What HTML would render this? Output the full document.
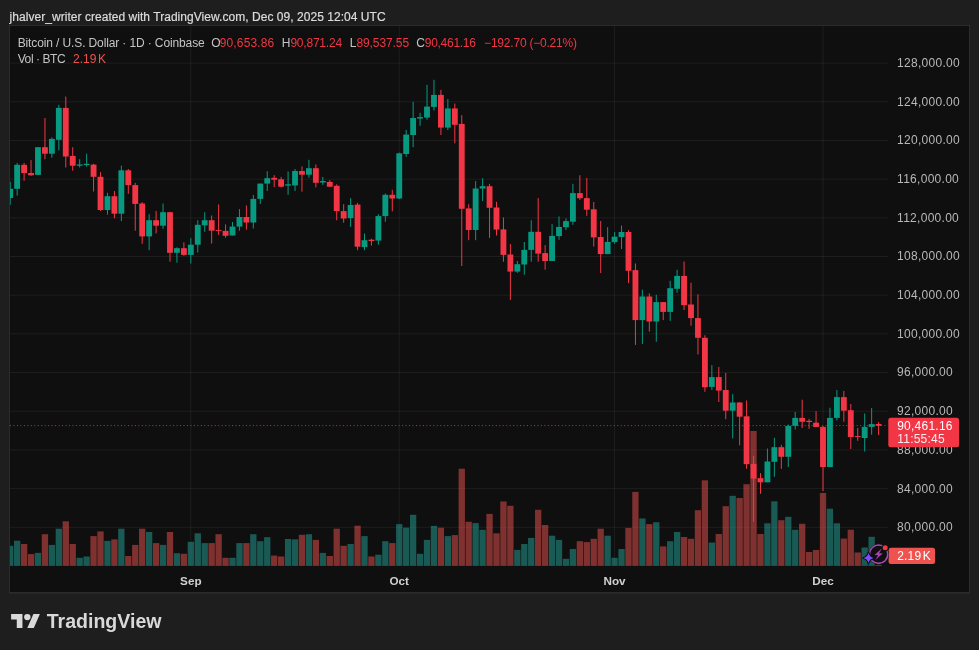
<!DOCTYPE html>
<html><head><meta charset="utf-8"><title>BTCUSD chart</title>
<style>html,body{margin:0;padding:0;background:#1e1e1e;}body{width:979px;height:650px;overflow:hidden;font-family:"Liberation Sans",sans-serif;}svg{display:block;will-change:transform;}text{font-family:"Liberation Sans",sans-serif;}</style>
</head><body>
<svg width="979" height="650" viewBox="0 0 979 650">
<rect x="0" y="0" width="979" height="650" fill="#1e1e1e"/>
<rect x="9" y="25" width="961" height="568.6" fill="#2b2b2b"/>
<rect x="10" y="26" width="959" height="566" fill="#0f0f0f"/>
<defs><clipPath id="cp"><rect x="10" y="26" width="878" height="566"/></clipPath></defs>
<g><rect x="10" y="62.6" width="878" height="1" fill="rgba(255,255,255,0.062)"/><rect x="10" y="101.28" width="878" height="1" fill="rgba(255,255,255,0.062)"/><rect x="10" y="139.96" width="878" height="1" fill="rgba(255,255,255,0.062)"/><rect x="10" y="178.64" width="878" height="1" fill="rgba(255,255,255,0.062)"/><rect x="10" y="217.32" width="878" height="1" fill="rgba(255,255,255,0.062)"/><rect x="10" y="256" width="878" height="1" fill="rgba(255,255,255,0.062)"/><rect x="10" y="294.68" width="878" height="1" fill="rgba(255,255,255,0.062)"/><rect x="10" y="333.36" width="878" height="1" fill="rgba(255,255,255,0.062)"/><rect x="10" y="372.04" width="878" height="1" fill="rgba(255,255,255,0.062)"/><rect x="10" y="410.72" width="878" height="1" fill="rgba(255,255,255,0.062)"/><rect x="10" y="449.4" width="878" height="1" fill="rgba(255,255,255,0.062)"/><rect x="10" y="488.08" width="878" height="1" fill="rgba(255,255,255,0.062)"/><rect x="10" y="526.76" width="878" height="1" fill="rgba(255,255,255,0.062)"/><rect x="190.32" y="26" width="1" height="540" fill="rgba(255,255,255,0.062)"/><rect x="398.73" y="26" width="1" height="540" fill="rgba(255,255,255,0.062)"/><rect x="614.09" y="26" width="1" height="540" fill="rgba(255,255,255,0.062)"/><rect x="822.5" y="26" width="1" height="540" fill="rgba(255,255,255,0.062)"/></g>
<g clip-path="url(#cp)"><rect x="7.05" y="545.8" width="6.3" height="20.1" fill="rgba(38,166,154,0.5)"/><rect x="14" y="540.7" width="6.3" height="25.2" fill="rgba(38,166,154,0.5)"/><rect x="20.94" y="544" width="6.3" height="21.9" fill="rgba(239,83,80,0.5)"/><rect x="27.89" y="554.1" width="6.3" height="11.8" fill="rgba(239,83,80,0.5)"/><rect x="34.84" y="552.9" width="6.3" height="13" fill="rgba(38,166,154,0.5)"/><rect x="41.79" y="534.2" width="6.3" height="31.7" fill="rgba(239,83,80,0.5)"/><rect x="48.73" y="544.9" width="6.3" height="21" fill="rgba(38,166,154,0.5)"/><rect x="55.68" y="528.7" width="6.3" height="37.2" fill="rgba(38,166,154,0.5)"/><rect x="62.63" y="521.3" width="6.3" height="44.6" fill="rgba(239,83,80,0.5)"/><rect x="69.57" y="544" width="6.3" height="21.9" fill="rgba(239,83,80,0.5)"/><rect x="76.52" y="557.8" width="6.3" height="8.1" fill="rgba(38,166,154,0.5)"/><rect x="83.47" y="556.5" width="6.3" height="9.4" fill="rgba(38,166,154,0.5)"/><rect x="90.41" y="536.1" width="6.3" height="29.8" fill="rgba(239,83,80,0.5)"/><rect x="97.36" y="531.4" width="6.3" height="34.5" fill="rgba(239,83,80,0.5)"/><rect x="104.31" y="540.9" width="6.3" height="25" fill="rgba(38,166,154,0.5)"/><rect x="111.25" y="539.4" width="6.3" height="26.5" fill="rgba(239,83,80,0.5)"/><rect x="118.2" y="528.7" width="6.3" height="37.2" fill="rgba(38,166,154,0.5)"/><rect x="125.15" y="556" width="6.3" height="9.9" fill="rgba(239,83,80,0.5)"/><rect x="132.1" y="544.9" width="6.3" height="21" fill="rgba(239,83,80,0.5)"/><rect x="139.04" y="528.7" width="6.3" height="37.2" fill="rgba(239,83,80,0.5)"/><rect x="145.99" y="532" width="6.3" height="33.9" fill="rgba(38,166,154,0.5)"/><rect x="152.94" y="543.1" width="6.3" height="22.8" fill="rgba(239,83,80,0.5)"/><rect x="159.88" y="544.9" width="6.3" height="21" fill="rgba(38,166,154,0.5)"/><rect x="166.83" y="532" width="6.3" height="33.9" fill="rgba(239,83,80,0.5)"/><rect x="173.78" y="553.2" width="6.3" height="12.7" fill="rgba(38,166,154,0.5)"/><rect x="180.72" y="553.8" width="6.3" height="12.1" fill="rgba(239,83,80,0.5)"/><rect x="187.67" y="541.8" width="6.3" height="24.1" fill="rgba(38,166,154,0.5)"/><rect x="194.62" y="533.3" width="6.3" height="32.6" fill="rgba(38,166,154,0.5)"/><rect x="201.57" y="543.1" width="6.3" height="22.8" fill="rgba(38,166,154,0.5)"/><rect x="208.51" y="543.1" width="6.3" height="22.8" fill="rgba(239,83,80,0.5)"/><rect x="215.46" y="534.2" width="6.3" height="31.7" fill="rgba(239,83,80,0.5)"/><rect x="222.41" y="557.8" width="6.3" height="8.1" fill="rgba(239,83,80,0.5)"/><rect x="229.35" y="557.8" width="6.3" height="8.1" fill="rgba(38,166,154,0.5)"/><rect x="236.3" y="543.1" width="6.3" height="22.8" fill="rgba(38,166,154,0.5)"/><rect x="243.25" y="543.1" width="6.3" height="22.8" fill="rgba(239,83,80,0.5)"/><rect x="250.19" y="534.2" width="6.3" height="31.7" fill="rgba(38,166,154,0.5)"/><rect x="257.14" y="541.2" width="6.3" height="24.7" fill="rgba(38,166,154,0.5)"/><rect x="264.09" y="537.2" width="6.3" height="28.7" fill="rgba(38,166,154,0.5)"/><rect x="271.04" y="555.6" width="6.3" height="10.3" fill="rgba(239,83,80,0.5)"/><rect x="277.98" y="556.5" width="6.3" height="9.4" fill="rgba(239,83,80,0.5)"/><rect x="284.93" y="539" width="6.3" height="26.9" fill="rgba(38,166,154,0.5)"/><rect x="291.88" y="539.4" width="6.3" height="26.5" fill="rgba(38,166,154,0.5)"/><rect x="298.82" y="534.8" width="6.3" height="31.1" fill="rgba(239,83,80,0.5)"/><rect x="305.77" y="534.2" width="6.3" height="31.7" fill="rgba(38,166,154,0.5)"/><rect x="312.72" y="539.9" width="6.3" height="26" fill="rgba(239,83,80,0.5)"/><rect x="319.67" y="552.9" width="6.3" height="13" fill="rgba(38,166,154,0.5)"/><rect x="326.61" y="556" width="6.3" height="9.9" fill="rgba(239,83,80,0.5)"/><rect x="333.56" y="528.7" width="6.3" height="37.2" fill="rgba(239,83,80,0.5)"/><rect x="340.51" y="545.8" width="6.3" height="20.1" fill="rgba(239,83,80,0.5)"/><rect x="347.45" y="544" width="6.3" height="21.9" fill="rgba(38,166,154,0.5)"/><rect x="354.4" y="525.7" width="6.3" height="40.2" fill="rgba(239,83,80,0.5)"/><rect x="361.35" y="536.1" width="6.3" height="29.8" fill="rgba(38,166,154,0.5)"/><rect x="368.29" y="556.5" width="6.3" height="9.4" fill="rgba(239,83,80,0.5)"/><rect x="375.24" y="554.7" width="6.3" height="11.2" fill="rgba(38,166,154,0.5)"/><rect x="382.19" y="541.2" width="6.3" height="24.7" fill="rgba(38,166,154,0.5)"/><rect x="389.13" y="543.1" width="6.3" height="22.8" fill="rgba(239,83,80,0.5)"/><rect x="396.08" y="524.1" width="6.3" height="41.8" fill="rgba(38,166,154,0.5)"/><rect x="403.03" y="527.7" width="6.3" height="38.2" fill="rgba(38,166,154,0.5)"/><rect x="409.98" y="514.8" width="6.3" height="51.1" fill="rgba(38,166,154,0.5)"/><rect x="416.92" y="553.8" width="6.3" height="12.1" fill="rgba(38,166,154,0.5)"/><rect x="423.87" y="539.9" width="6.3" height="26" fill="rgba(38,166,154,0.5)"/><rect x="430.82" y="525.9" width="6.3" height="40" fill="rgba(38,166,154,0.5)"/><rect x="437.76" y="527.7" width="6.3" height="38.2" fill="rgba(239,83,80,0.5)"/><rect x="444.71" y="536.1" width="6.3" height="29.8" fill="rgba(38,166,154,0.5)"/><rect x="451.66" y="535.1" width="6.3" height="30.8" fill="rgba(239,83,80,0.5)"/><rect x="458.61" y="468.7" width="6.3" height="97.2" fill="rgba(239,83,80,0.5)"/><rect x="465.55" y="521.8" width="6.3" height="44.1" fill="rgba(239,83,80,0.5)"/><rect x="472.5" y="523.1" width="6.3" height="42.8" fill="rgba(38,166,154,0.5)"/><rect x="479.45" y="529.8" width="6.3" height="36.1" fill="rgba(38,166,154,0.5)"/><rect x="486.39" y="513.9" width="6.3" height="52" fill="rgba(239,83,80,0.5)"/><rect x="493.34" y="533.3" width="6.3" height="32.6" fill="rgba(239,83,80,0.5)"/><rect x="500.29" y="501.5" width="6.3" height="64.4" fill="rgba(239,83,80,0.5)"/><rect x="507.23" y="505.8" width="6.3" height="60.1" fill="rgba(239,83,80,0.5)"/><rect x="514.18" y="549.9" width="6.3" height="16" fill="rgba(38,166,154,0.5)"/><rect x="521.13" y="544" width="6.3" height="21.9" fill="rgba(38,166,154,0.5)"/><rect x="528.08" y="537.9" width="6.3" height="28" fill="rgba(38,166,154,0.5)"/><rect x="535.02" y="509.8" width="6.3" height="56.1" fill="rgba(239,83,80,0.5)"/><rect x="541.97" y="525" width="6.3" height="40.9" fill="rgba(239,83,80,0.5)"/><rect x="548.92" y="535.7" width="6.3" height="30.2" fill="rgba(38,166,154,0.5)"/><rect x="555.86" y="539.9" width="6.3" height="26" fill="rgba(38,166,154,0.5)"/><rect x="562.81" y="558.8" width="6.3" height="7.1" fill="rgba(38,166,154,0.5)"/><rect x="569.76" y="549" width="6.3" height="16.9" fill="rgba(38,166,154,0.5)"/><rect x="576.7" y="541.2" width="6.3" height="24.7" fill="rgba(239,83,80,0.5)"/><rect x="583.65" y="542.1" width="6.3" height="23.8" fill="rgba(239,83,80,0.5)"/><rect x="590.6" y="538.8" width="6.3" height="27.1" fill="rgba(239,83,80,0.5)"/><rect x="597.55" y="528.7" width="6.3" height="37.2" fill="rgba(239,83,80,0.5)"/><rect x="604.49" y="535.7" width="6.3" height="30.2" fill="rgba(38,166,154,0.5)"/><rect x="611.44" y="557.8" width="6.3" height="8.1" fill="rgba(38,166,154,0.5)"/><rect x="618.39" y="549" width="6.3" height="16.9" fill="rgba(38,166,154,0.5)"/><rect x="625.33" y="527.9" width="6.3" height="38" fill="rgba(239,83,80,0.5)"/><rect x="632.28" y="491.9" width="6.3" height="74" fill="rgba(239,83,80,0.5)"/><rect x="639.23" y="518.5" width="6.3" height="47.4" fill="rgba(38,166,154,0.5)"/><rect x="646.17" y="524.1" width="6.3" height="41.8" fill="rgba(239,83,80,0.5)"/><rect x="653.12" y="522.2" width="6.3" height="43.7" fill="rgba(38,166,154,0.5)"/><rect x="660.07" y="546.4" width="6.3" height="19.5" fill="rgba(239,83,80,0.5)"/><rect x="667.02" y="541.2" width="6.3" height="24.7" fill="rgba(38,166,154,0.5)"/><rect x="673.96" y="532" width="6.3" height="33.9" fill="rgba(38,166,154,0.5)"/><rect x="680.91" y="537" width="6.3" height="28.9" fill="rgba(239,83,80,0.5)"/><rect x="687.86" y="538.8" width="6.3" height="27.1" fill="rgba(239,83,80,0.5)"/><rect x="694.8" y="510.2" width="6.3" height="55.7" fill="rgba(239,83,80,0.5)"/><rect x="701.75" y="480.3" width="6.3" height="85.6" fill="rgba(239,83,80,0.5)"/><rect x="708.7" y="542.6" width="6.3" height="23.3" fill="rgba(38,166,154,0.5)"/><rect x="715.64" y="534" width="6.3" height="31.9" fill="rgba(239,83,80,0.5)"/><rect x="722.59" y="506.2" width="6.3" height="59.7" fill="rgba(239,83,80,0.5)"/><rect x="729.54" y="495.8" width="6.3" height="70.1" fill="rgba(38,166,154,0.5)"/><rect x="736.49" y="498" width="6.3" height="67.9" fill="rgba(239,83,80,0.5)"/><rect x="743.43" y="484.2" width="6.3" height="81.7" fill="rgba(239,83,80,0.5)"/><rect x="750.38" y="431" width="6.3" height="134.9" fill="rgba(239,83,80,0.5)"/><rect x="757.33" y="534" width="6.3" height="31.9" fill="rgba(239,83,80,0.5)"/><rect x="764.27" y="523.3" width="6.3" height="42.6" fill="rgba(38,166,154,0.5)"/><rect x="771.22" y="501.3" width="6.3" height="64.6" fill="rgba(38,166,154,0.5)"/><rect x="778.17" y="520.2" width="6.3" height="45.7" fill="rgba(239,83,80,0.5)"/><rect x="785.11" y="516.8" width="6.3" height="49.1" fill="rgba(38,166,154,0.5)"/><rect x="792.06" y="529.8" width="6.3" height="36.1" fill="rgba(38,166,154,0.5)"/><rect x="799.01" y="523.8" width="6.3" height="42.1" fill="rgba(239,83,80,0.5)"/><rect x="805.96" y="552" width="6.3" height="13.9" fill="rgba(239,83,80,0.5)"/><rect x="812.9" y="550" width="6.3" height="15.9" fill="rgba(239,83,80,0.5)"/><rect x="819.85" y="493" width="6.3" height="72.9" fill="rgba(239,83,80,0.5)"/><rect x="826.8" y="508.7" width="6.3" height="57.2" fill="rgba(38,166,154,0.5)"/><rect x="833.74" y="523.3" width="6.3" height="42.6" fill="rgba(38,166,154,0.5)"/><rect x="840.69" y="538.6" width="6.3" height="27.3" fill="rgba(239,83,80,0.5)"/><rect x="847.64" y="529.7" width="6.3" height="36.2" fill="rgba(239,83,80,0.5)"/><rect x="854.58" y="552.5" width="6.3" height="13.4" fill="rgba(239,83,80,0.5)"/><rect x="861.53" y="547.5" width="6.3" height="18.4" fill="rgba(38,166,154,0.5)"/><rect x="868.48" y="536.8" width="6.3" height="29.1" fill="rgba(38,166,154,0.5)"/><rect x="875.43" y="564.9" width="6.3" height="1" fill="rgba(239,83,80,0.5)"/></g>
<line x1="10" y1="425.6" x2="888" y2="425.6" stroke="#f23645" stroke-width="1" stroke-dasharray="1 2.47" opacity="0.85"/>
<g clip-path="url(#cp)"><rect x="9.7" y="181.7" width="1" height="23.1" fill="#089981"/><rect x="7.27" y="188.8" width="5.85" height="9.2" fill="#089981"/><rect x="16.65" y="162.9" width="1" height="32.7" fill="#089981"/><rect x="14.22" y="164.8" width="5.85" height="24" fill="#089981"/><rect x="23.59" y="162.9" width="1" height="17.9" fill="#f23645"/><rect x="21.17" y="164.8" width="5.85" height="8.3" fill="#f23645"/><rect x="30.54" y="160" width="1" height="15.8" fill="#f23645"/><rect x="28.12" y="173" width="5.85" height="2.3" fill="#f23645"/><rect x="37.49" y="147.2" width="1" height="27.7" fill="#089981"/><rect x="35.06" y="147.2" width="5.85" height="27.7" fill="#089981"/><rect x="44.44" y="118" width="1" height="41.2" fill="#f23645"/><rect x="42.01" y="147.2" width="5.85" height="6.5" fill="#f23645"/><rect x="51.38" y="137.4" width="1" height="20.3" fill="#089981"/><rect x="48.96" y="138.9" width="5.85" height="14.8" fill="#089981"/><rect x="58.33" y="104.8" width="1" height="45.7" fill="#089981"/><rect x="55.9" y="107.9" width="5.85" height="31.9" fill="#089981"/><rect x="65.28" y="96.5" width="1" height="71" fill="#f23645"/><rect x="62.85" y="107.9" width="5.85" height="48.6" fill="#f23645"/><rect x="72.22" y="147.2" width="1" height="23.5" fill="#f23645"/><rect x="69.8" y="155.9" width="5.85" height="9.8" fill="#f23645"/><rect x="79.17" y="159.2" width="1" height="8.3" fill="#089981"/><rect x="76.75" y="164.4" width="5.85" height="1.3" fill="#089981"/><rect x="86.12" y="153.7" width="1" height="12.9" fill="#089981"/><rect x="83.69" y="163.8" width="5.85" height="1.3" fill="#089981"/><rect x="93.06" y="163.8" width="1" height="27.7" fill="#f23645"/><rect x="90.64" y="164.6" width="5.85" height="12.2" fill="#f23645"/><rect x="100.01" y="172.2" width="1" height="38.7" fill="#f23645"/><rect x="97.59" y="176.8" width="5.85" height="33.2" fill="#f23645"/><rect x="106.96" y="192.8" width="1" height="21.8" fill="#089981"/><rect x="104.53" y="196.2" width="5.85" height="13.8" fill="#089981"/><rect x="113.91" y="191" width="1" height="27.3" fill="#f23645"/><rect x="111.48" y="196.2" width="5.85" height="17.5" fill="#f23645"/><rect x="120.85" y="165.7" width="1" height="55.4" fill="#089981"/><rect x="118.43" y="170.3" width="5.85" height="43.4" fill="#089981"/><rect x="127.8" y="169" width="1" height="24.8" fill="#f23645"/><rect x="125.37" y="170.3" width="5.85" height="14.8" fill="#f23645"/><rect x="134.75" y="182.9" width="1" height="47.8" fill="#f23645"/><rect x="132.32" y="185.1" width="5.85" height="18.8" fill="#f23645"/><rect x="141.69" y="202.2" width="1" height="41.6" fill="#f23645"/><rect x="139.27" y="203.5" width="5.85" height="32.9" fill="#f23645"/><rect x="148.64" y="214.2" width="1" height="36" fill="#089981"/><rect x="146.21" y="220.2" width="5.85" height="16.2" fill="#089981"/><rect x="155.59" y="210.9" width="1" height="22.5" fill="#f23645"/><rect x="153.16" y="220.2" width="5.85" height="5.5" fill="#f23645"/><rect x="162.53" y="203.5" width="1" height="25.3" fill="#089981"/><rect x="160.11" y="212.2" width="5.85" height="13.5" fill="#089981"/><rect x="169.48" y="211.8" width="1" height="49.9" fill="#f23645"/><rect x="167.06" y="212.2" width="5.85" height="40.6" fill="#f23645"/><rect x="176.43" y="247.3" width="1" height="15.3" fill="#089981"/><rect x="174" y="248.2" width="5.85" height="4.6" fill="#089981"/><rect x="183.38" y="242.3" width="1" height="13.5" fill="#f23645"/><rect x="180.95" y="248.2" width="5.85" height="6.7" fill="#f23645"/><rect x="190.32" y="238.2" width="1" height="25.3" fill="#089981"/><rect x="187.9" y="244.7" width="5.85" height="10.2" fill="#089981"/><rect x="197.27" y="220.2" width="1" height="32.3" fill="#089981"/><rect x="194.84" y="224.8" width="5.85" height="19.9" fill="#089981"/><rect x="204.22" y="212.2" width="1" height="19.6" fill="#089981"/><rect x="201.79" y="220.2" width="5.85" height="5.1" fill="#089981"/><rect x="211.16" y="215.5" width="1" height="28.1" fill="#f23645"/><rect x="208.74" y="220.2" width="5.85" height="10.5" fill="#f23645"/><rect x="218.11" y="204.5" width="1" height="30.4" fill="#f23645"/><rect x="215.68" y="229.9" width="5.85" height="1" fill="#f23645"/><rect x="225.06" y="224.4" width="1" height="13.3" fill="#f23645"/><rect x="222.63" y="230.9" width="5.85" height="4.9" fill="#f23645"/><rect x="232" y="222" width="1" height="13.5" fill="#089981"/><rect x="229.58" y="226.6" width="5.85" height="8.9" fill="#089981"/><rect x="238.95" y="209.1" width="1" height="21.6" fill="#089981"/><rect x="236.53" y="217" width="5.85" height="9.6" fill="#089981"/><rect x="245.9" y="205.4" width="1" height="24.3" fill="#f23645"/><rect x="243.47" y="217" width="5.85" height="5.5" fill="#f23645"/><rect x="252.84" y="194.9" width="1" height="33.6" fill="#089981"/><rect x="250.42" y="198.9" width="5.85" height="23.6" fill="#089981"/><rect x="259.79" y="183.6" width="1" height="20.3" fill="#089981"/><rect x="257.37" y="183.6" width="5.85" height="15.3" fill="#089981"/><rect x="266.74" y="171.2" width="1" height="19.8" fill="#089981"/><rect x="264.31" y="178.2" width="5.85" height="5.4" fill="#089981"/><rect x="273.69" y="175.1" width="1" height="12" fill="#f23645"/><rect x="271.26" y="177.8" width="5.85" height="1.9" fill="#f23645"/><rect x="280.63" y="176.9" width="1" height="10.7" fill="#f23645"/><rect x="278.21" y="179.3" width="5.85" height="7.4" fill="#f23645"/><rect x="287.58" y="171.4" width="1" height="23.4" fill="#089981"/><rect x="285.15" y="184.3" width="5.85" height="1.3" fill="#089981"/><rect x="294.53" y="169" width="1" height="22.1" fill="#089981"/><rect x="292.1" y="171" width="5.85" height="14.4" fill="#089981"/><rect x="301.47" y="166.4" width="1" height="25.3" fill="#f23645"/><rect x="299.05" y="171" width="5.85" height="3.7" fill="#f23645"/><rect x="308.42" y="159.8" width="1" height="18" fill="#089981"/><rect x="306" y="168.2" width="5.85" height="6.5" fill="#089981"/><rect x="315.37" y="164.4" width="1" height="23" fill="#f23645"/><rect x="312.94" y="168.2" width="5.85" height="14.6" fill="#f23645"/><rect x="322.31" y="176.9" width="1" height="8" fill="#089981"/><rect x="319.89" y="181" width="5.85" height="1.5" fill="#089981"/><rect x="329.26" y="180.1" width="1" height="6.6" fill="#f23645"/><rect x="326.84" y="181.9" width="5.85" height="4.8" fill="#f23645"/><rect x="336.21" y="184.3" width="1" height="36" fill="#f23645"/><rect x="333.78" y="185.8" width="5.85" height="25.3" fill="#f23645"/><rect x="343.16" y="204.2" width="1" height="18.5" fill="#f23645"/><rect x="340.73" y="211.1" width="5.85" height="7.4" fill="#f23645"/><rect x="350.1" y="198.2" width="1" height="28.6" fill="#089981"/><rect x="347.68" y="205" width="5.85" height="13.1" fill="#089981"/><rect x="357.05" y="202.8" width="1" height="47.4" fill="#f23645"/><rect x="354.62" y="204.6" width="5.85" height="42.1" fill="#f23645"/><rect x="364" y="233.6" width="1" height="16.6" fill="#089981"/><rect x="361.57" y="240.2" width="5.85" height="6.9" fill="#089981"/><rect x="370.94" y="238.8" width="1" height="6.8" fill="#f23645"/><rect x="368.52" y="239.7" width="5.85" height="1.3" fill="#f23645"/><rect x="377.89" y="214.2" width="1" height="30.5" fill="#089981"/><rect x="375.47" y="216.1" width="5.85" height="24.5" fill="#089981"/><rect x="384.84" y="193.5" width="1" height="28.3" fill="#089981"/><rect x="382.41" y="194.8" width="5.85" height="21.3" fill="#089981"/><rect x="391.78" y="189.8" width="1" height="21.6" fill="#f23645"/><rect x="389.36" y="194.8" width="5.85" height="3.7" fill="#f23645"/><rect x="398.73" y="152.6" width="1" height="46.5" fill="#089981"/><rect x="396.31" y="153.3" width="5.85" height="45.2" fill="#089981"/><rect x="405.68" y="130" width="1" height="26.8" fill="#089981"/><rect x="403.25" y="134.6" width="5.85" height="19.4" fill="#089981"/><rect x="412.63" y="101.8" width="1" height="45.4" fill="#089981"/><rect x="410.2" y="118" width="5.85" height="17" fill="#089981"/><rect x="419.57" y="112.8" width="1" height="13" fill="#089981"/><rect x="417.15" y="117.1" width="5.85" height="1.5" fill="#089981"/><rect x="426.52" y="84.8" width="1" height="35" fill="#089981"/><rect x="424.09" y="106.6" width="5.85" height="11" fill="#089981"/><rect x="433.47" y="79.8" width="1" height="30.8" fill="#089981"/><rect x="431.04" y="94.9" width="5.85" height="12" fill="#089981"/><rect x="440.41" y="89.8" width="1" height="45.2" fill="#f23645"/><rect x="437.99" y="94.9" width="5.85" height="32.7" fill="#f23645"/><rect x="447.36" y="99" width="1" height="31" fill="#089981"/><rect x="444.94" y="108.4" width="5.85" height="19.2" fill="#089981"/><rect x="454.31" y="103.6" width="1" height="39.7" fill="#f23645"/><rect x="451.88" y="108.4" width="5.85" height="16.4" fill="#f23645"/><rect x="461.25" y="115.2" width="1" height="150.8" fill="#f23645"/><rect x="458.83" y="123.9" width="5.85" height="84.9" fill="#f23645"/><rect x="468.2" y="204.2" width="1" height="36" fill="#f23645"/><rect x="465.78" y="208.4" width="5.85" height="21.6" fill="#f23645"/><rect x="475.15" y="181.1" width="1" height="59.1" fill="#089981"/><rect x="472.72" y="188.5" width="5.85" height="41.5" fill="#089981"/><rect x="482.1" y="178.3" width="1" height="22.7" fill="#089981"/><rect x="479.67" y="186.2" width="5.85" height="2.3" fill="#089981"/><rect x="489.04" y="183.8" width="1" height="54.1" fill="#f23645"/><rect x="486.62" y="186.2" width="5.85" height="21.6" fill="#f23645"/><rect x="495.99" y="201.8" width="1" height="33.7" fill="#f23645"/><rect x="493.56" y="207.5" width="5.85" height="22.1" fill="#f23645"/><rect x="502.94" y="217.4" width="1" height="44.3" fill="#f23645"/><rect x="500.51" y="229.4" width="5.85" height="25.5" fill="#f23645"/><rect x="509.88" y="244.1" width="1" height="55.8" fill="#f23645"/><rect x="507.46" y="254.5" width="5.85" height="17.1" fill="#f23645"/><rect x="516.83" y="261" width="1" height="11.8" fill="#089981"/><rect x="514.41" y="264.2" width="5.85" height="7.4" fill="#089981"/><rect x="523.78" y="242" width="1" height="32.7" fill="#089981"/><rect x="521.35" y="249.9" width="5.85" height="14.6" fill="#089981"/><rect x="530.73" y="220.2" width="1" height="41.5" fill="#089981"/><rect x="528.3" y="231.8" width="5.85" height="18.1" fill="#089981"/><rect x="537.67" y="198.1" width="1" height="63.6" fill="#f23645"/><rect x="535.25" y="231.8" width="5.85" height="21.8" fill="#f23645"/><rect x="544.62" y="245.1" width="1" height="24.6" fill="#f23645"/><rect x="542.19" y="253.1" width="5.85" height="7.9" fill="#f23645"/><rect x="551.57" y="224.1" width="1" height="36.9" fill="#089981"/><rect x="549.14" y="235.9" width="5.85" height="25.1" fill="#089981"/><rect x="558.51" y="216.5" width="1" height="23.3" fill="#089981"/><rect x="556.09" y="226.9" width="5.85" height="9.2" fill="#089981"/><rect x="565.46" y="218.4" width="1" height="11.6" fill="#089981"/><rect x="563.04" y="221.1" width="5.85" height="6.1" fill="#089981"/><rect x="572.41" y="183.8" width="1" height="41" fill="#089981"/><rect x="569.98" y="193.1" width="5.85" height="28.6" fill="#089981"/><rect x="579.35" y="175.2" width="1" height="24.7" fill="#f23645"/><rect x="576.93" y="193.1" width="5.85" height="5.1" fill="#f23645"/><rect x="586.3" y="177.9" width="1" height="37.9" fill="#f23645"/><rect x="583.88" y="198.1" width="5.85" height="11.6" fill="#f23645"/><rect x="593.25" y="201.9" width="1" height="44.7" fill="#f23645"/><rect x="590.82" y="209.3" width="5.85" height="28.1" fill="#f23645"/><rect x="600.2" y="221" width="1" height="52" fill="#f23645"/><rect x="597.77" y="237" width="5.85" height="17.1" fill="#f23645"/><rect x="607.14" y="227.1" width="1" height="27" fill="#089981"/><rect x="604.72" y="241.9" width="5.85" height="12.2" fill="#089981"/><rect x="614.09" y="232.1" width="1" height="11.7" fill="#089981"/><rect x="611.66" y="236.7" width="5.85" height="5.4" fill="#089981"/><rect x="621.04" y="225.5" width="1" height="23.5" fill="#089981"/><rect x="618.61" y="232" width="5.85" height="5" fill="#089981"/><rect x="627.98" y="230.2" width="1" height="52.9" fill="#f23645"/><rect x="625.56" y="232" width="5.85" height="38.8" fill="#f23645"/><rect x="634.93" y="263.5" width="1" height="81.4" fill="#f23645"/><rect x="632.51" y="270.1" width="5.85" height="50" fill="#f23645"/><rect x="641.88" y="289.7" width="1" height="54.3" fill="#089981"/><rect x="639.45" y="296.5" width="5.85" height="23.6" fill="#089981"/><rect x="648.82" y="293.4" width="1" height="38.2" fill="#f23645"/><rect x="646.4" y="296.5" width="5.85" height="25" fill="#f23645"/><rect x="655.77" y="294.7" width="1" height="47.1" fill="#089981"/><rect x="653.35" y="302.1" width="5.85" height="19.4" fill="#089981"/><rect x="662.72" y="302.1" width="1" height="18" fill="#f23645"/><rect x="660.29" y="302.1" width="5.85" height="9.8" fill="#f23645"/><rect x="669.67" y="280.8" width="1" height="40.1" fill="#089981"/><rect x="667.24" y="288.2" width="5.85" height="23.7" fill="#089981"/><rect x="676.61" y="269.8" width="1" height="23" fill="#089981"/><rect x="674.19" y="275.9" width="5.85" height="12.9" fill="#089981"/><rect x="683.56" y="261.5" width="1" height="48.5" fill="#f23645"/><rect x="681.13" y="275.9" width="5.85" height="29.3" fill="#f23645"/><rect x="690.51" y="282.7" width="1" height="43" fill="#f23645"/><rect x="688.08" y="304.5" width="5.85" height="13.6" fill="#f23645"/><rect x="697.45" y="294.3" width="1" height="60.2" fill="#f23645"/><rect x="695.03" y="318.1" width="5.85" height="19.7" fill="#f23645"/><rect x="704.4" y="335.2" width="1" height="56.6" fill="#f23645"/><rect x="701.98" y="337.8" width="5.85" height="49.4" fill="#f23645"/><rect x="711.35" y="365.1" width="1" height="24.9" fill="#089981"/><rect x="708.92" y="377.1" width="5.85" height="9.8" fill="#089981"/><rect x="718.29" y="366.9" width="1" height="35.1" fill="#f23645"/><rect x="715.87" y="377.1" width="5.85" height="13.5" fill="#f23645"/><rect x="725.24" y="373" width="1" height="46.2" fill="#f23645"/><rect x="722.82" y="390" width="5.85" height="20.7" fill="#f23645"/><rect x="732.19" y="394.1" width="1" height="44.3" fill="#089981"/><rect x="729.76" y="402.5" width="5.85" height="8.2" fill="#089981"/><rect x="739.14" y="401.9" width="1" height="43.4" fill="#f23645"/><rect x="736.71" y="402.5" width="5.85" height="14.2" fill="#f23645"/><rect x="746.08" y="400.5" width="1" height="68.3" fill="#f23645"/><rect x="743.66" y="416.3" width="5.85" height="47.9" fill="#f23645"/><rect x="753.03" y="455.9" width="1" height="65.7" fill="#f23645"/><rect x="750.6" y="463.9" width="5.85" height="14.7" fill="#f23645"/><rect x="759.98" y="473.1" width="1" height="20.7" fill="#f23645"/><rect x="757.55" y="478.1" width="5.85" height="4.2" fill="#f23645"/><rect x="766.92" y="448.5" width="1" height="33.8" fill="#089981"/><rect x="764.5" y="461.5" width="5.85" height="20.8" fill="#089981"/><rect x="773.87" y="437.8" width="1" height="39" fill="#089981"/><rect x="771.45" y="447.2" width="5.85" height="14.6" fill="#089981"/><rect x="780.82" y="444.8" width="1" height="24" fill="#f23645"/><rect x="778.39" y="447.2" width="5.85" height="9.6" fill="#f23645"/><rect x="787.76" y="424.5" width="1" height="42.5" fill="#089981"/><rect x="785.34" y="425.9" width="5.85" height="30.9" fill="#089981"/><rect x="794.71" y="412" width="1" height="17.6" fill="#089981"/><rect x="792.29" y="417.9" width="5.85" height="8" fill="#089981"/><rect x="801.66" y="399.7" width="1" height="28.3" fill="#f23645"/><rect x="799.23" y="417.9" width="5.85" height="3.9" fill="#f23645"/><rect x="808.61" y="418.8" width="1" height="10" fill="#f23645"/><rect x="806.18" y="420.8" width="5.85" height="1.2" fill="#f23645"/><rect x="815.55" y="411.1" width="1" height="15.8" fill="#f23645"/><rect x="813.13" y="422.7" width="5.85" height="4.2" fill="#f23645"/><rect x="822.5" y="426" width="1" height="65" fill="#f23645"/><rect x="820.07" y="426.9" width="5.85" height="40.1" fill="#f23645"/><rect x="829.45" y="407.7" width="1" height="59.3" fill="#089981"/><rect x="827.02" y="417.9" width="5.85" height="49.1" fill="#089981"/><rect x="836.39" y="390" width="1" height="30.4" fill="#089981"/><rect x="833.97" y="397.1" width="5.85" height="20.8" fill="#089981"/><rect x="843.34" y="390.9" width="1" height="30.9" fill="#f23645"/><rect x="840.92" y="397.1" width="5.85" height="13.6" fill="#f23645"/><rect x="850.29" y="404" width="1" height="45" fill="#f23645"/><rect x="847.86" y="410.2" width="5.85" height="26.9" fill="#f23645"/><rect x="857.23" y="428" width="1" height="12.8" fill="#f23645"/><rect x="854.81" y="436.1" width="5.85" height="1" fill="#f23645"/><rect x="864.18" y="413.5" width="1" height="38" fill="#089981"/><rect x="861.76" y="426.9" width="5.85" height="11.1" fill="#089981"/><rect x="871.13" y="407.9" width="1" height="26.8" fill="#089981"/><rect x="868.7" y="424.1" width="5.85" height="2.8" fill="#089981"/><rect x="878.08" y="422.1" width="1" height="13" fill="#f23645"/><rect x="875.65" y="424" width="5.85" height="1.8" fill="#f23645"/></g>
<g><text x="897.1" y="67.05" font-size="12" letter-spacing="0.28" fill="#b8b8b8">128,000.00</text><text x="897.1" y="105.73" font-size="12" letter-spacing="0.28" fill="#b8b8b8">124,000.00</text><text x="897.1" y="144.41" font-size="12" letter-spacing="0.28" fill="#b8b8b8">120,000.00</text><text x="897.1" y="183.09" font-size="12" letter-spacing="0.28" fill="#b8b8b8">116,000.00</text><text x="897.1" y="221.77" font-size="12" letter-spacing="0.28" fill="#b8b8b8">112,000.00</text><text x="897.1" y="260.45" font-size="12" letter-spacing="0.28" fill="#b8b8b8">108,000.00</text><text x="897.1" y="299.13" font-size="12" letter-spacing="0.28" fill="#b8b8b8">104,000.00</text><text x="897.1" y="337.81" font-size="12" letter-spacing="0.28" fill="#b8b8b8">100,000.00</text><text x="897.1" y="376.49" font-size="12" letter-spacing="0.28" fill="#b8b8b8">96,000.00</text><text x="897.1" y="415.17" font-size="12" letter-spacing="0.28" fill="#b8b8b8">92,000.00</text><text x="897.1" y="453.85" font-size="12" letter-spacing="0.28" fill="#b8b8b8">88,000.00</text><text x="897.1" y="492.53" font-size="12" letter-spacing="0.28" fill="#b8b8b8">84,000.00</text><text x="897.1" y="531.21" font-size="12" letter-spacing="0.28" fill="#b8b8b8">80,000.00</text></g>
<rect x="888.3" y="417.7" width="70.8" height="29.6" rx="2.5" fill="#f23645"/>
<text x="897.2" y="429.9" font-size="12" letter-spacing="0.24" fill="#ffffff">90,461.16</text>
<text x="897.2" y="442.8" font-size="12" letter-spacing="0.24" fill="#ffffff" fill-opacity="0.9" textLength="47.7" lengthAdjust="spacing">11:55:45</text>
<rect x="888.6" y="547.8" width="46.5" height="16.2" rx="2.5" fill="#ef5350"/>
<text x="897.2" y="559.6" font-size="12" letter-spacing="0.2" fill="#ffffff">2.19<tspan dx="1.5">K</tspan></text>
<g><circle cx="878.6" cy="554.2" r="10.3" fill="#0f0f0f"/><circle cx="878.6" cy="554.2" r="9.2" fill="none" stroke="#ab47bc" stroke-width="1.6"/><path d="M881.3 549 L874.8 554.9 L878.4 554.9 L875.7 559.5 L882.5 553.6 L878.9 553.6 Z" fill="#ab47bc" stroke="#ab47bc" stroke-width="0.25" stroke-linejoin="round"/><circle cx="885.2" cy="547.75" r="3.5" fill="#0f0f0f"/><circle cx="885.2" cy="547.75" r="2.5" fill="#f23645"/><path d="M868.5 552.8 Q869.4 557 873.6 557.9 Q869.4 558.8 868.5 563 Q867.6 558.8 863.4 557.9 Q867.6 557 868.5 552.8 Z" fill="#7c4dff" stroke="#0f0f0f" stroke-width="2" paint-order="stroke" stroke-linejoin="round"/></g>
<text x="190.82" y="585.1" font-size="11.7" font-weight="bold" text-anchor="middle" fill="#d1d1d1">Sep</text>
<text x="399.23" y="585.1" font-size="11.7" font-weight="bold" text-anchor="middle" fill="#d1d1d1">Oct</text>
<text x="614.59" y="585.1" font-size="11.7" font-weight="bold" text-anchor="middle" fill="#d1d1d1">Nov</text>
<text x="823" y="585.1" font-size="11.7" font-weight="bold" text-anchor="middle" fill="#d1d1d1">Dec</text>
<text x="9.6" y="20.9" font-size="12" fill="#dcdcdc" stroke="#dcdcdc" stroke-width="0.2" textLength="376" lengthAdjust="spacing">jhalver_writer created with TradingView.com, Dec 09, 2025 12:04 UTC</text>
<text x="17.7" y="46.9" font-size="12" fill="#c4c4c4" textLength="187" lengthAdjust="spacing">Bitcoin / U.S. Dollar · 1D · Coinbase</text>
<text x="211.3" y="46.9" font-size="12" fill="#c4c4c4">O</text><text x="219.7" y="46.9" font-size="12" fill="#f23645" textLength="54.6" lengthAdjust="spacing">90,653.86</text>
<text x="281.8" y="46.9" font-size="12" fill="#c4c4c4">H</text><text x="290.4" y="46.9" font-size="12" fill="#f23645" textLength="51.7" lengthAdjust="spacing">90,871.24</text>
<text x="349.8" y="46.9" font-size="12" fill="#c4c4c4">L</text><text x="356.4" y="46.9" font-size="12" fill="#f23645" textLength="52.7" lengthAdjust="spacing">89,537.55</text>
<text x="416.3" y="46.9" font-size="12" fill="#c4c4c4">C</text><text x="424.8" y="46.9" font-size="12" fill="#f23645" textLength="51.1" lengthAdjust="spacing">90,461.16</text>
<text x="484.1" y="46.9" font-size="12" fill="#f23645" textLength="92.9" lengthAdjust="spacing">−192.70 (−0.21%)</text>
<text x="17.7" y="62.8" font-size="12" fill="#c4c4c4" textLength="48" lengthAdjust="spacing">Vol · BTC</text>
<text x="73" y="62.8" font-size="12" fill="#ef5350">2.19<tspan dx="1.6">K</tspan></text>
<g transform="translate(11.1,610.9) scale(0.811,0.778)" fill="#d9d9d9"><path d="M14 22H7V11H0V4h14v18zM28 22h-8l7.5-18h8L28 22z"/><circle cx="20" cy="8" r="4"/></g>
<text x="46.7" y="628" font-size="19.6" font-weight="bold" fill="#d9d9d9" textLength="114.8" lengthAdjust="spacingAndGlyphs">TradingView</text>
</svg></body></html>
